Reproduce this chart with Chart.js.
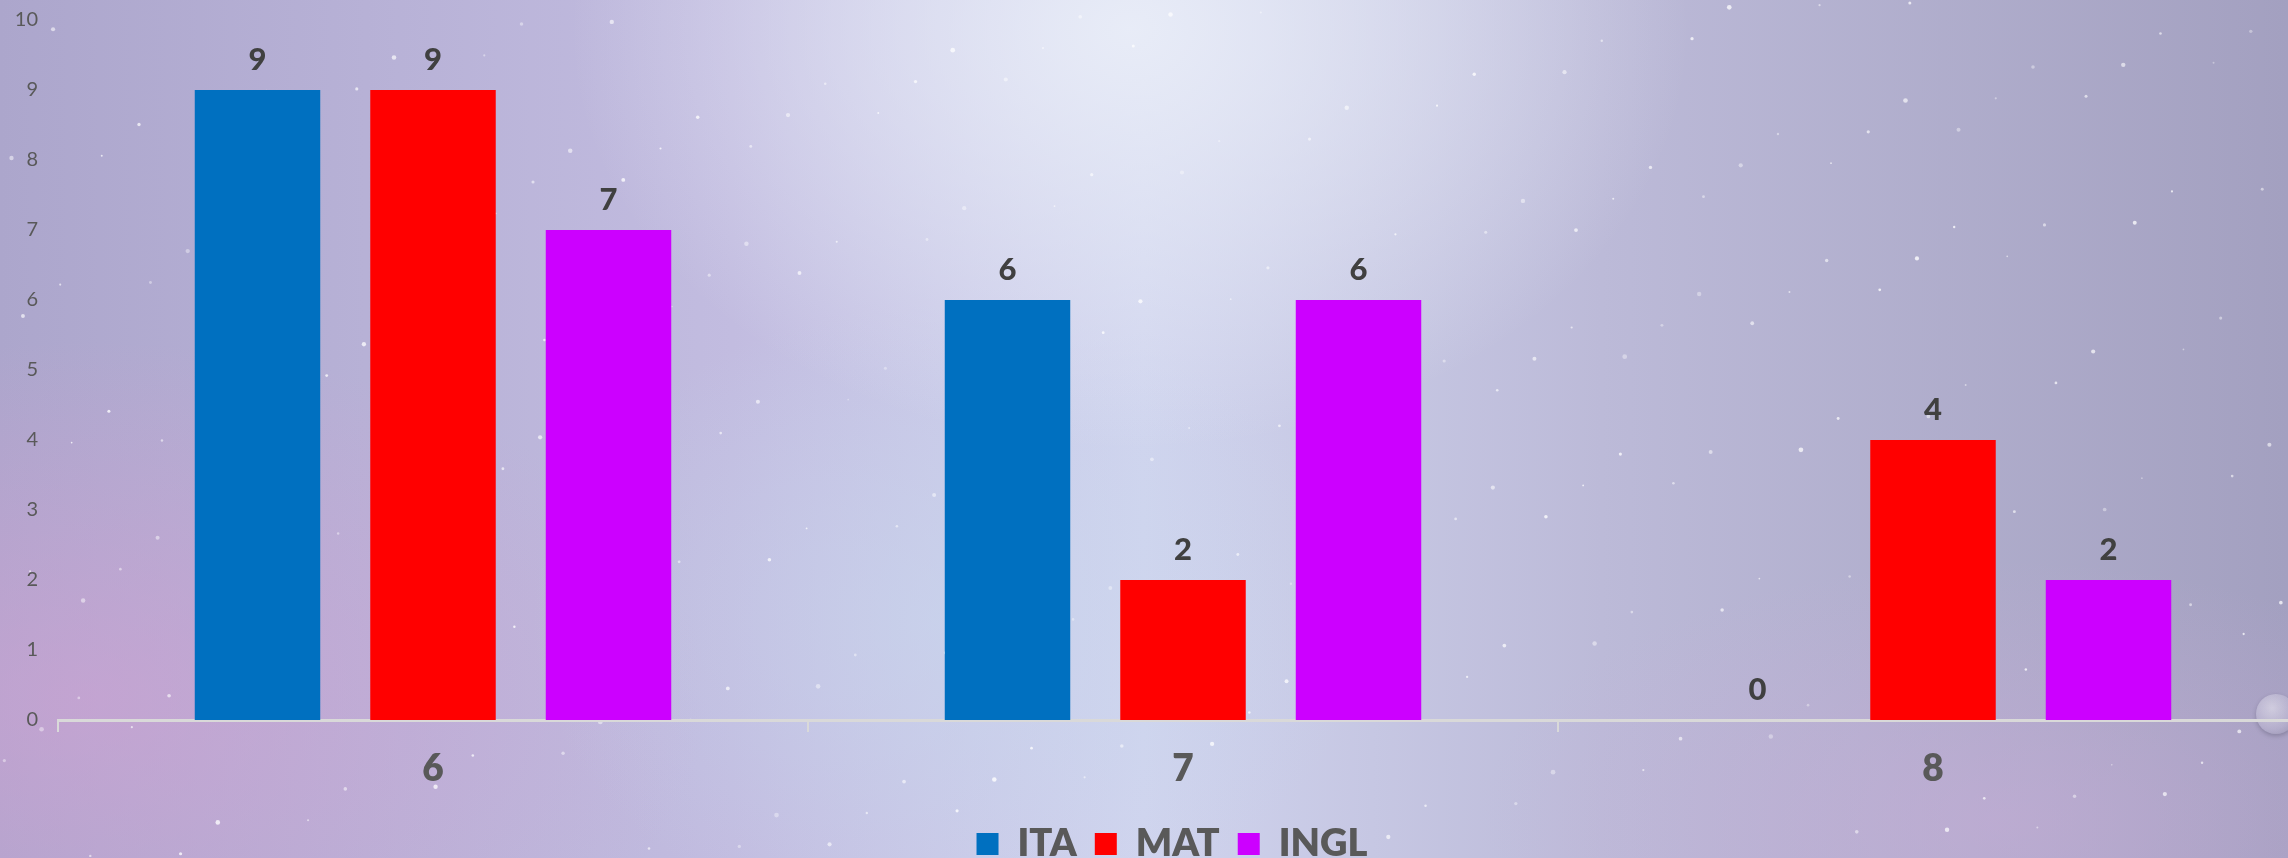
<!DOCTYPE html>
<html><head><meta charset="utf-8">
<script src="https://cdn.jsdelivr.net/npm/chart.js@4.4.1/dist/chart.umd.min.js"></script>
<style>
html,body{margin:0;padding:0;width:2288px;height:858px;overflow:hidden;}
#bg{position:absolute;left:0;top:0;width:2288px;height:858px;
background:
 radial-gradient(ellipse 560px 420px at 1130px 30px, rgba(234,238,248,0.92), rgba(234,238,248,0) 100%),
 radial-gradient(ellipse 420px 320px at 950px 620px, rgba(200,216,238,0.55), rgba(200,216,238,0) 100%),
 radial-gradient(ellipse 620px 360px at 90px 700px, rgba(212,160,212,0.55), rgba(212,160,212,0) 100%),
 radial-gradient(ellipse 520px 260px at 2000px 820px, rgba(205,172,218,0.45), rgba(205,172,218,0) 100%),
 linear-gradient(90deg, #aca6cc 0%, #c2bce0 32%, #d0d4ee 50%, #bcbad8 70%, #a3a0c0 100%);}
#stars{position:absolute;left:0;top:0;}
#glass{position:absolute;left:2256px;top:694px;width:40px;height:40px;border-radius:50%;
background:radial-gradient(circle at 40% 35%, rgba(255,255,255,0.45), rgba(220,220,235,0.2) 60%, rgba(110,110,130,0.35) 100%);
box-shadow:0 2px 4px rgba(60,60,80,0.3);}
#wrap{position:absolute;left:0;top:0;width:2344px;height:858px;}
</style></head>
<body><div id="bg"></div><canvas id="stars" width="2288" height="858"></canvas><div id="glass"></div><div id="wrap"><canvas id="c" width="2344" height="858"></canvas></div>
<script>
const categories = ['6', '7', '8'];
const seriesNames = ['ITA', 'MAT', 'INGL'];
const itaValues = [9, 6, 0];
const matValues = [9, 2, 4];
const inglValues = [7, 6, 2];
const seriesColors = ['#0070C0', '#FF0000', '#CC00FF'];
const yMin = 0, yMax = 10, yStep = 1;

// decorative star field (background texture only)
(function(){
  const sc = document.getElementById('stars').getContext('2d');
  for (let i = 1; i <= 260; i++) {
    const x = ((i * 0.6180339) % 1) * 2288;
    const y = ((i * 0.7548777) % 1) * 858;
    const r = 0.8 + ((i * 0.41421) % 1) * 1.6;
    sc.fillStyle = 'rgba(255,255,255,' + (0.35 + ((i * 0.3183) % 1) * 0.45).toFixed(2) + ')';
    sc.beginPath(); sc.arc(x, y, r, 0, Math.PI * 2); sc.fill();
  }
})();

const valueLabels = {
  id: 'valueLabels',
  afterDatasetsDraw(chart) {
    const ctx = chart.ctx;
    ctx.save();
    ctx.font = '900 31px Lato';
    ctx.fillStyle = '#404040';
    ctx.textAlign = 'center';
    ctx.textBaseline = 'middle';
    chart.data.datasets.forEach((ds, i) => {
      const meta = chart.getDatasetMeta(i);
      meta.data.forEach((bar, j) => {
        ctx.fillText(String(ds.data[j]), bar.x, bar.y - 30);
      });
    });
    ctx.restore();
  }
};

const seriesData = [itaValues, matValues, inglValues];
new Chart(document.getElementById('c'), {
  type: 'bar',
  data: {
    labels: categories,
    datasets: seriesNames.map((n, i) => ({
      label: n, data: seriesData[i], backgroundColor: seriesColors[i], borderWidth: 0, yAxisID: 'y'
    }))
  },
  options: {
    responsive: false, animation: false, devicePixelRatio: 1,
    layout: { padding: { left: 0, right: 0, top: 0, bottom: -15 } },
    datasets: { bar: { categoryPercentage: 0.702, barPercentage: 0.715 } },
    plugins: {
      legend: {
        position: 'bottom',
        labels: { font: { family: 'Lato', size: 38, weight: '800' }, color: '#595959', boxWidth: 22, boxHeight: 22, padding: 18 }
      },
      tooltip: { enabled: false }
    },
    scales: {
      x: {
        grid: { display: true, drawOnChartArea: false, drawTicks: true, tickLength: 12, color: '#d9d9d9', lineWidth: 2, offset: true },
        border: { display: true, color: '#d9d9d9', width: 3 },
        ticks: { font: { family: 'Lato', size: 37, weight: '800' }, color: '#595959', padding: 15 },
        afterFit(s) { const lh = s.chart.legend ? s.chart.legend.height : 90; s.height = 873 - 720 - lh; }
      },
      y: {
        position: 'left', min: yMin, max: yMax,
        ticks: { stepSize: yStep, font: { family: 'Lato', size: 20 }, color: '#595959', padding: 20 },
        grid: { display: false, drawTicks: false }, border: { display: false },
        afterFit(s) { s.width = 58; s.paddingTop = 20; s.paddingBottom = 0; }
      },
      yRight: {
        position: 'right', min: yMin, max: yMax,
        ticks: { display: false }, grid: { display: false, drawTicks: false }, border: { display: false },
        afterFit(s) { s.width = 36; s.paddingTop = 0; s.paddingBottom = 0; }
      }
    }
  },
  plugins: [valueLabels]
});
</script>
</body></html>
